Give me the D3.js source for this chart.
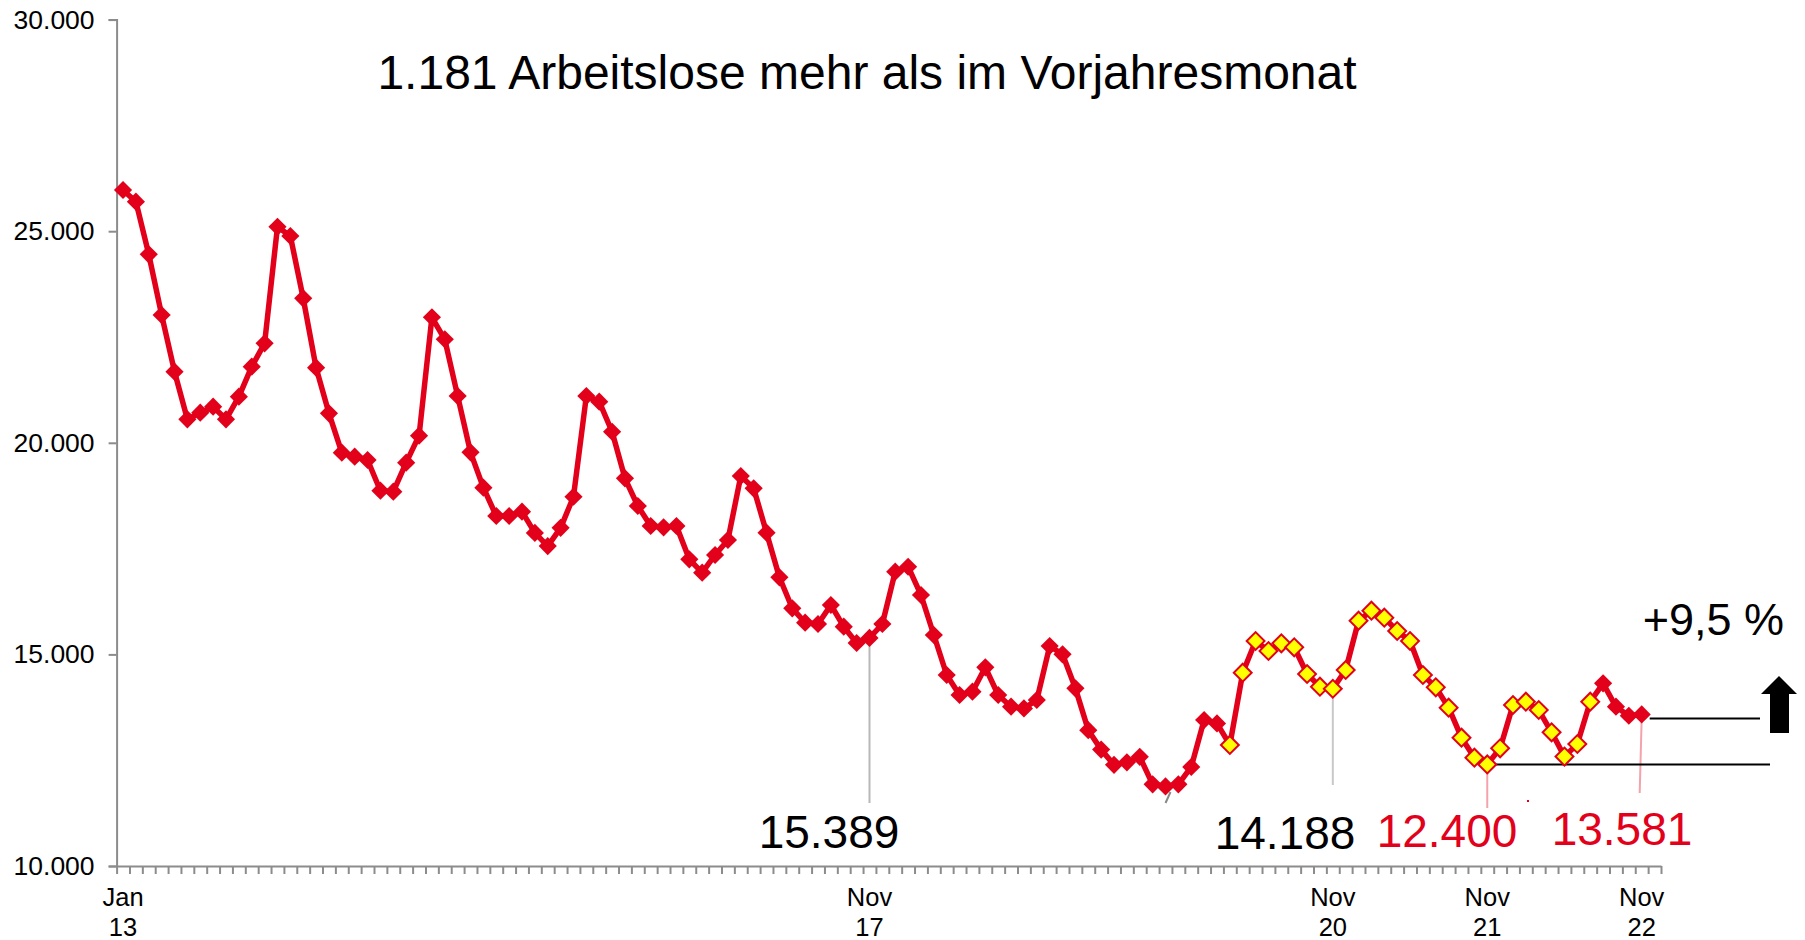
<!doctype html>
<html>
  <head>
    <meta charset="utf-8">
    <title>Arbeitslose</title>
    <style>
      * { margin: 0; padding: 0; }
      body { background: #fff; font-family: "Liberation Sans", Arial, sans-serif; }
      svg { display: block; }
    </style>
    <script src="https://d3js.org/d3.v7.min.js"></script>
  </head>
  <body>
    <div id="chart"></div>
    <script>
    // monatswerte Jan 2013 - Nov 2022
    const years = [13, 14, 15, 16, 17, 18, 19, 20, 21, 22]
    const monthNames = ["Jan","Feb","Mär","Apr","Mai","Jun","Jul","Aug","Sep","Okt","Nov","Dez"]
    const v2013 = [25974, 25697, 24454, 23020, 21680, 20555, 20712, 20853, 20555, 21090, 21799, 22351]
    const v2014 = [25106, 24887, 23414, 21776, 20697, 19767, 19672, 19594, 18868, 18845, 19530, 20168]
    const v2015 = [22966, 22446, 21106, 19775, 18940, 18270, 18270, 18372, 17870, 17560, 17990, 18726]
    const v2016 = [21106, 20971, 20262, 19160, 18507, 18034, 18003, 18034, 17247, 16931, 17349, 17703]
    const v2017 = [19215, 18925, 17876, 16822, 16089, 15750, 15718, 16167, 15655, 15270, 15389, 15718]
    const v2018 = [16954, 17072, 16404, 15458, 14513, 14040, 14119, 14695, 14040, 13764, 13724, 13922]
    const v2019 = [15198, 15002, 14198, 13210, 12750, 12390, 12450, 12580, 11930, 11880, 11930, 12340]
    const v2020 = [13450, 13370, 12860, 14568, 15317, 15080, 15262, 15168, 14537, 14237, 14188, 14631]
    const v2021 = [15796, 16033, 15867, 15553, 15317, 14513, 14222, 13741, 13032, 12560, 12400, 12781]
    const v2022 = [13804, 13882, 13686, 13159, 12585, 12883, 13882, 14317, 13764, 13551, 13581]

    const yTicks = [10000, 15000, 20000, 25000, 30000]
    const xLabels = [
      {key: "Jan 13", a: "Jan", b: "13"},
      {key: "Nov 17", a: "Nov", b: "17"},
      {key: "Nov 20", a: "Nov", b: "20"},
      {key: "Nov 21", a: "Nov", b: "21"},
      {key: "Nov 22", a: "Nov", b: "22"}
    ]
    // gelbe markierung (corona-zeitraum)
    const highlightFrom = "Mär 20"
    const highlightTo = "Jul 22"

    const allValues = [v2013, v2014, v2015, v2016, v2017, v2018, v2019, v2020, v2021, v2022]
    let data = []
    allValues.forEach(function (arr, yi) {
      arr.forEach(function (v, m) {
        data.push({key: monthNames[m] + " " + years[yi], value: v})
      })
    })
    let slots = data.map(d => d.key).concat(["Dez 22"])

    const red = "#e2001a"
    const W = 1805, H = 940

    const svg = d3.select("#chart").append("svg").attr("width", W).attr("height", H)

    const x = d3.scaleBand().domain(slots).range([116.6, 1661]).padding(0)
    const cx = k => x(k) + x.bandwidth() / 2
    const y = d3.scaleLinear().domain([10000, 30000]).range([866, 19.6])

    const de = d3.formatLocale({decimal: ",", thousands: ".", grouping: [3], currency: ["", "€"]})

    // y-achse
    const yAxis = svg.append("g").attr("transform", "translate(116.6,0)")
      .call(d3.axisLeft(y).tickValues(yTicks).tickFormat(de.format(",d")).tickSize(8).tickPadding(14))
    yAxis.selectAll("path, line").attr("stroke", "#8c8c8c").attr("stroke-width", 2)
    yAxis.selectAll("text").style("font-size", "26.5px").style("font-family", "Liberation Sans, Arial").attr("fill", "#000")

    // x-achse (striche an den kategoriegrenzen)
    const xLin = d3.scaleLinear().domain([0, slots.length]).range(x.range())
    const xAxis = svg.append("g").attr("transform", "translate(0,866)")
      .call(d3.axisBottom(xLin).tickValues(d3.range(0, slots.length + 1)).tickFormat("").tickSize(8).tickSizeOuter(0))
    xAxis.selectAll("path, line").attr("stroke", "#8c8c8c").attr("stroke-width", 2)

    xLabels.forEach(function (l) {
      const t = svg.append("text").attr("text-anchor", "middle")
        .style("font-size", "25.5px").attr("fill", "#000")
      t.append("tspan").attr("x", cx(l.key)).attr("y", 906).text(l.a)
      t.append("tspan").attr("x", cx(l.key)).attr("y", 936).text(l.b)
    })

    // titel
    svg.append("text").attr("x", 867).attr("y", 89).attr("text-anchor", "middle")
      .style("font-size", "48px").attr("fill", "#000")
      .text("1.181 Arbeitslose mehr als im Vorjahresmonat")

    // leader lines
    const byKey = {}
    data.forEach(d => byKey[d.key] = d)
    const leaders = [
      {key: "Nov 17", y2: 803, color: "#b8b8b8", dx2: 0},
      {key: "Nov 20", y2: 785, color: "#c8c8c8", dx2: 0},
      {key: "Nov 21", y2: 808, color: "#f4a3ab", dx2: 0},
      {key: "Nov 22", y2: 793, color: "#f4a3ab", dx2: -2}
    ]
    leaders.forEach(function (l) {
      svg.append("line")
        .attr("x1", cx(l.key)).attr("y1", y(byKey[l.key].value) + 3)
        .attr("x2", cx(l.key) + l.dx2).attr("y2", l.y2)
        .attr("stroke", l.color).attr("stroke-width", 2)
    })
    // kleiner rest einer alten beschriftung
    svg.append("line").attr("x1", cx("Okt 19") + 5).attr("y1", 792).attr("x2", cx("Okt 19")).attr("y2", 803)
      .attr("stroke", "#888").attr("stroke-width", 2)
    svg.append("rect").attr("x", 1527).attr("y", 800).attr("width", 2).attr("height", 2).attr("fill", red)

    // horizontale vergleichslinien
    svg.append("line").attr("x1", cx("Nov 22") + 8).attr("x2", 1760)
      .attr("y1", y(byKey["Nov 22"].value) + 4).attr("y2", y(byKey["Nov 22"].value) + 4)
      .attr("stroke", "#000").attr("stroke-width", 2)
    svg.append("line").attr("x1", cx("Nov 21")).attr("x2", 1770)
      .attr("y1", y(byKey["Nov 21"].value)).attr("y2", y(byKey["Nov 21"].value))
      .attr("stroke", "#000").attr("stroke-width", 2)

    // linie
    const line = d3.line().x(d => cx(d.key)).y(d => y(d.value))
    svg.append("path").datum(data).attr("d", line)
      .attr("fill", "none").attr("stroke", red).attr("stroke-width", 5.5).attr("stroke-linejoin", "round")

    const iFrom = slots.indexOf(highlightFrom), iTo = slots.indexOf(highlightTo)
    const diamond = d3.symbol().type(d3.symbolSquare)
    svg.append("g").selectAll("path").data(data).join("path")
      .attr("transform", d => "translate(" + cx(d.key) + "," + y(d.value) + ") rotate(45)")
      .attr("d", function (d, i) {
        return (i >= iFrom && i <= iTo) ? diamond.size(160)() : diamond.size(165)()
      })
      .attr("fill", (d, i) => (i >= iFrom && i <= iTo) ? "#ffff00" : red)
      .attr("stroke", red).attr("stroke-width", (d, i) => (i >= iFrom && i <= iTo) ? 2 : 0)

    // werte-beschriftungen
    const labels = [
      {key: "Nov 17", x: 829, y: 848, color: "#000"},
      {key: "Nov 20", x: 1285, y: 849, color: "#000"},
      {key: "Nov 21", x: 1447, y: 847, color: red},
      {key: "Nov 22", x: 1622, y: 845, color: red}
    ]
    labels.forEach(function (l) {
      svg.append("text").attr("x", l.x).attr("y", l.y).attr("text-anchor", "middle")
        .style("font-size", "46px").attr("fill", l.color)
        .text(de.format(",d")(byKey[l.key].value))
    })

    svg.append("text").attr("x", 1784).attr("y", 635).attr("text-anchor", "end")
      .style("font-size", "45px").attr("fill", "#000").text("+9,5 %")

    // pfeil
    svg.append("polygon")
      .attr("points", "1779,676 1761,694 1770,694 1770,733 1789,733 1789,694 1797,694")
      .attr("fill", "#000")
    </script>
  </body>
</html>
